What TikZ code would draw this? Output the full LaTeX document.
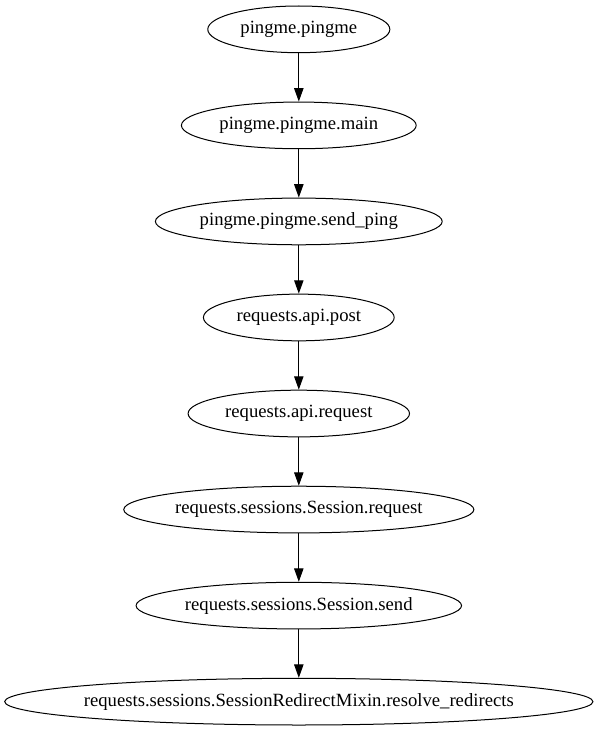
\documentclass[tikz,border=0pt]{standalone}
\usepackage{fontspec}
\setmainfont{Liberation Serif}
\usetikzlibrary{arrows.meta, shapes, positioning}
\newcommand{\callT}[1]{\makebox[0pt]{#1}}
\tikzset{
    callN/.style={draw, ellipse, inner sep=0pt, line width=0.75pt, minimum height=35pt, font=\fontsize{14}{16}\selectfont},
    callE/.style={-{Triangle[length=10pt,width=7pt]}, line width=0.75pt}
}
\begin{document}
\begin{tikzpicture}[x=1pt,y=1pt]
    \def \X {224}
    \useasboundingbox (0,0) rectangle (448.5,-548);
    \node[callN, minimum width=136.5pt] (a1) at (\X, -22) {\callT{pingme.pingme}};
    \node[callN, minimum width=176pt] (a2) at (\X, -94) {\callT{pingme.pingme.main}};
    \node[callN, minimum width=215pt] (a3) at (\X, -166) {\callT{pingme.pingme.send\_ping}};
    \node[callN, minimum width=143pt] (a4) at (\X, -238) {\callT{requests.api.post}};
    \node[callN, minimum width=166pt] (a5) at (\X, -310) {\callT{requests.api.request}};
    \node[callN, minimum width=262.5pt] (a6) at (\X, -382) {\callT{requests.sessions.Session.request}};
    \node[callN, minimum width=244pt] (a7) at (\X, -454) {\callT{requests.sessions.Session.send}};
    \node[callN, minimum width=441pt] (a8) at (\X, -526) {\callT{requests.sessions.SessionRedirectMixin.resolve\_redirects}};
    \draw[callE] (a1) -- (a2);
    \draw[callE] (a2) -- (a3);
    \draw[callE] (a3) -- (a4);
    \draw[callE] (a4) -- (a5);
    \draw[callE] (a5) -- (a6);
    \draw[callE] (a6) -- (a7);
    \draw[callE] (a7) -- (a8);
\end{tikzpicture}
\end{document}
